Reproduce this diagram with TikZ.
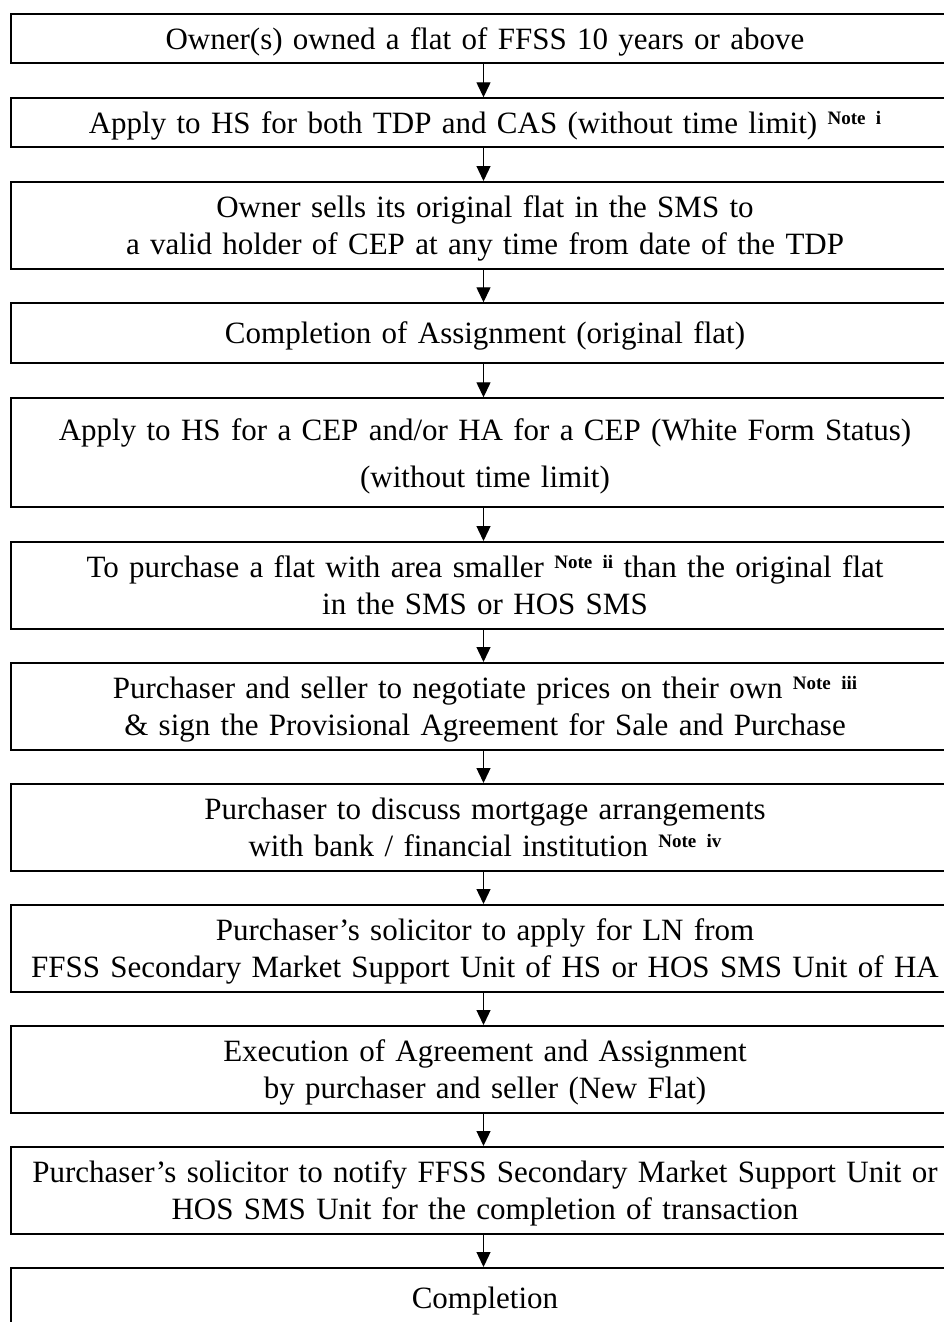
\documentclass[tikz,border=0pt]{standalone}
\usepackage{fontspec}
\setmainfont{Liberation Serif}
\usetikzlibrary{arrows.meta}
\newcommand\nte[1]{\raisebox{9pt}{\fontsize{19}{20}\selectfont\bfseries Note #1}}
\tikzset{
  box/.style={draw, line width=2pt, rectangle, minimum width=948pt, inner sep=0pt},
  txt/.style={text width=944pt, align=center, inner sep=0pt, font=\fontsize{31}{37}\selectfont},
  wide/.style={font=\fontsize{31}{47}\selectfont},
  arr/.style={line width=1.3pt, -{Triangle[length=15pt,width=14pt]}}
}
\begin{document}
\begin{tikzpicture}[x=1pt,y=-1pt]
\useasboundingbox (0,0) rectangle (944,1322);
\fill[white] (0,0) rectangle (944,1322);
\clip (0,0) rectangle (944,1322);

\node[box, minimum height=49.3pt] (b1) at (485,38.65) {};
\node[box, minimum height=49pt] (b2) at (485,122.8) {};
\node[box, minimum height=86.7pt] (b3) at (485,225.35) {};
\node[box, minimum height=59.7pt] (b4) at (485,333.15) {};
\node[box, minimum height=109pt] (b5) at (485,452.8) {};
\node[box, minimum height=87pt] (b6) at (485,585.5) {};
\node[box, minimum height=86.5pt] (b7) at (485,706.25) {};
\node[box, minimum height=86.5pt] (b8) at (485,827.25) {};
\node[box, minimum height=87pt] (b9) at (485,948.5) {};
\node[box, minimum height=86.5pt] (b10) at (485,1069.25) {};
\node[box, minimum height=86.5pt] (b11) at (485,1190.25) {};
\node[box, minimum height=60pt] (b12) at (485,1298) {};

\node[txt] (t1) at ([yshift=-3pt]b1.center) {\strut Owner(s) owned a flat of FFSS 10 years or above};
\node[txt] (t2) at ([yshift=-3pt]b2.center) {\strut Apply to HS for both TDP and CAS (without time limit) \nte{i}};
\node[txt] (t3) at ([yshift=-3pt]b3.center) {\strut Owner sells its original flat in the SMS to\\\strut a valid holder of CEP at any time from date of the TDP};
\node[txt] (t4) at ([yshift=-3pt]b4.center) {\strut Completion of Assignment (original flat)};
\node[txt, wide] (t5) at ([yshift=-2pt]b5.center) {\strut Apply to HS for a CEP and/or HA for a CEP (White Form Status)\\\strut (without time limit)};
\node[txt] (t6) at ([yshift=-3pt]b6.center) {\strut To purchase a flat with area smaller \nte{ii} than the original flat\\\strut in the SMS or HOS SMS};
\node[txt] (t7) at ([yshift=-3pt]b7.center) {\strut Purchaser and seller to negotiate prices on their own \nte{iii}\\\strut \& sign the Provisional Agreement for Sale and Purchase};
\node[txt] (t8) at ([yshift=-3pt]b8.center) {\strut Purchaser to discuss mortgage arrangements\\\strut with bank / financial institution \nte{iv}};
\node[txt] (t9) at ([yshift=-3pt]b9.center) {\strut Purchaser’s solicitor to apply for LN from\\\strut FFSS Secondary Market Support Unit of HS or HOS SMS Unit of HA};
\node[txt] (t10) at ([yshift=-3pt]b10.center) {\strut Execution of Agreement and Assignment\\\strut by purchaser and seller (New Flat)};
\node[txt] (t11) at ([yshift=-3pt]b11.center) {\strut Purchaser’s solicitor to notify FFSS Secondary Market Support Unit or\\\strut HOS SMS Unit for the completion of transaction};
\node[txt] (t12) at ([yshift=-3pt]b12.center) {\strut Completion};

\foreach \a/\b in {b1/b2,b2/b3,b3/b4,b4/b5,b5/b6,b6/b7,b7/b8,b8/b9,b9/b10,b10/b11,b11/b12}
  \draw[arr] ([xshift=-1.5pt]\a.south) -- ([xshift=-1.5pt]\b.north);
\end{tikzpicture}
\end{document}
